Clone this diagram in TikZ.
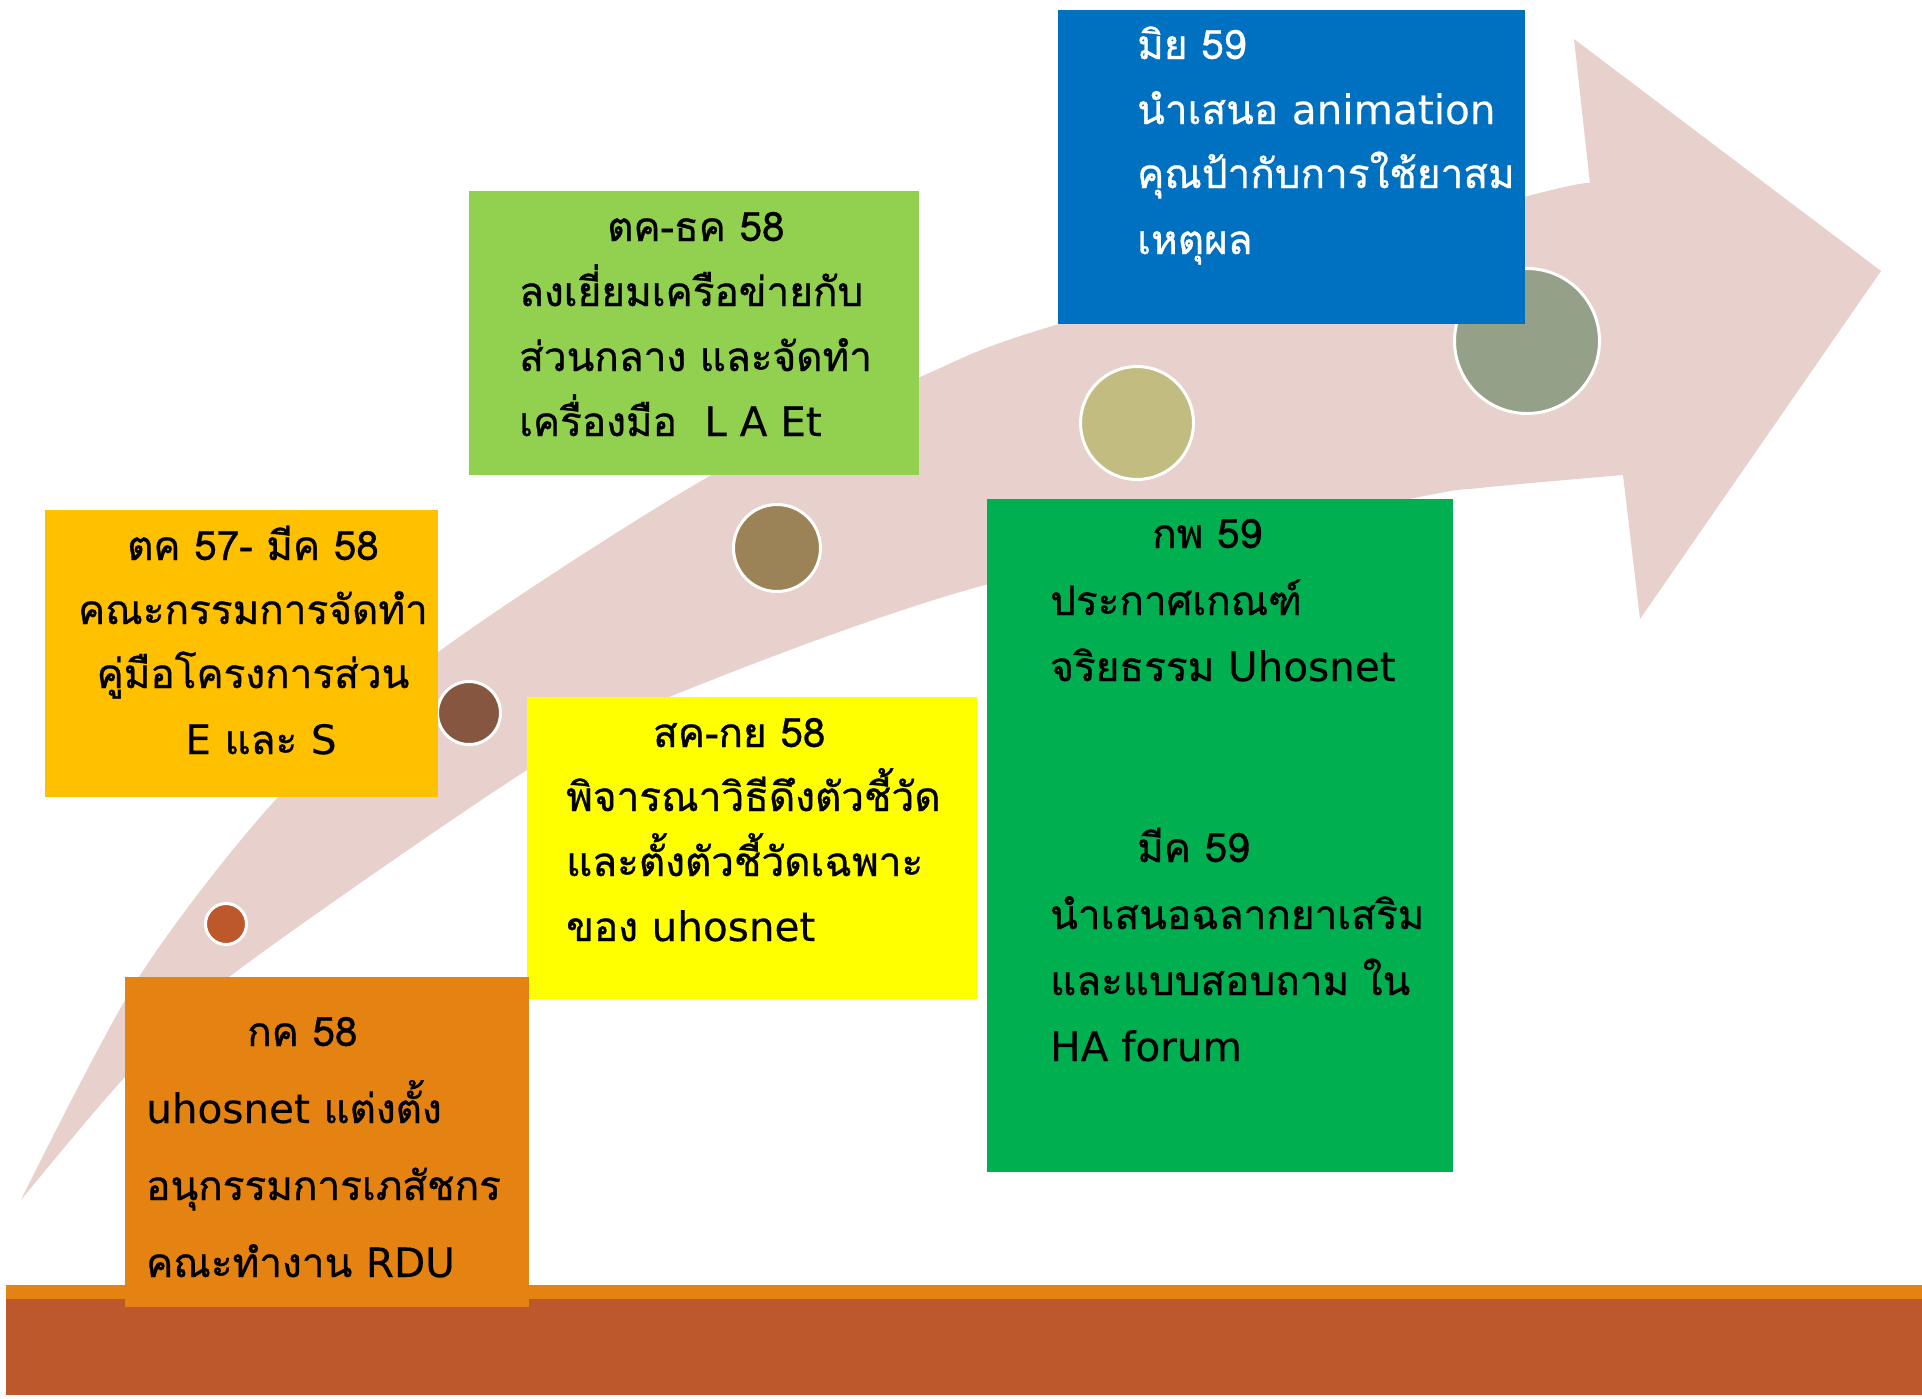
\documentclass[tikz,border=0pt]{standalone}
\usepackage{fontspec}
\newfontfamily\thaifont[Script=Thai,FakeBold=0.8]{Loma}
\newfontfamily\lat[FakeBold=0.3]{DejaVu Sans}
\definecolor{arrowc}{HTML}{E8D1CD}
\definecolor{cblue}{HTML}{0070C0}
\definecolor{clgreen}{HTML}{92D050}
\definecolor{camber}{HTML}{FFC000}
\definecolor{cyellow}{HTML}{FFFF00}
\definecolor{cgreen}{HTML}{00B050}
\definecolor{corange}{HTML}{E48312}
\definecolor{cbrown}{HTML}{BD582C}
\definecolor{dotA}{HTML}{BD582C}
\definecolor{dotB}{HTML}{865640}
\definecolor{dotC}{HTML}{9B8357}
\definecolor{dotD}{HTML}{C2BC80}
\definecolor{dotE}{HTML}{94A088}
\tikzset{
  box/.style={rectangle, draw=none, inner sep=0pt, anchor=north west},
  dot/.style={circle, draw=white, line width=3pt, inner sep=0pt},
  txt/.style={anchor=base west, inner sep=0pt, font=\thaifont\fontsize{40.5}{50}\selectfont},
}
\begin{document}
\begin{tikzpicture}[x=1pt,y=-1pt]
\useasboundingbox (0,0) rectangle (1922,1398);
% arrow
\fill[arrowc] plot[smooth] coordinates {(21,1200) (139,977) (279,796) (437,653) (708,477) (920,377) (1059,324) (1524,197) (1590,184)}
  -- (1574,39) -- (1881,271) -- (1640,619) -- (1623,475)
  -- plot[smooth] coordinates {(1623,475) (1480,488) (1409,499) (985,585) (669,697) (527,770) (229,977) (125,1077) (21,1200)} -- cycle;
% ground bar
\fill[corange] (6,1285) rectangle (1922,1300);
\fill[cbrown] (6,1299) rectangle (1922,1395);
% dots
\node[dot, fill=dotA, minimum size=41pt] (d1) at (226,924) {};
\node[dot, fill=dotB, minimum size=63pt] (d2) at (469,713) {};
\node[dot, fill=dotC, minimum size=87pt] (d3) at (777,548) {};
\node[dot, fill=dotD, minimum size=113pt] (d4) at (1137,423) {};
\node[dot, fill=dotE, minimum size=145pt] (d5) at (1527,341) {};
% boxes
\node[box, fill=cblue, minimum width=467pt, minimum height=314pt] (bblue) at (1058,10) {};
\node[box, fill=clgreen, minimum width=450pt, minimum height=284pt] (blgreen) at (469,191) {};
\node[box, fill=camber, minimum width=393pt, minimum height=287pt] (bamber) at (45,510) {};
\node[box, fill=cyellow, minimum width=450pt, minimum height=302pt] (byellow) at (527,697) {};
\node[box, fill=cgreen, minimum width=466pt, minimum height=673pt] (bgreen) at (987,499) {};
\node[box, fill=corange, minimum width=404pt, minimum height=330pt] (borange) at (125,977) {};
% blue texts
\node[txt, text=white] (ta1) at (1137,59) {มิย 59};
\node[txt, text=white] (ta2) at (1137,124) {นำเสนอ {\lat animation}};
\node[txt, text=white] (ta3) at (1137,188) {คุณป้ากับการใช้ยาสม};
\node[txt, text=white] (ta4) at (1137,254) {เหตุผล};
% light green texts
\node[txt] (tb1) at (607,241) {ตค-ธค 58};
\node[txt] (tb2) at (519,306) {ลงเยี่ยมเครือข่ายกับ};
\node[txt] (tb3) at (519,371) {ส่วนกลาง และจัดทำ};
\node[txt] (tb4) at (519,436) {เครื่องมือ\ \ {\lat L A Et}};
% amber texts (centred)
\node[txt, anchor=base] (tc1) at (253,560) {ตค 57- มีค 58};
\node[txt, anchor=base] (tc2) at (253,624) {คณะกรรมการจัดทำ};
\node[txt, anchor=base] (tc3) at (253,688) {คู่มือโครงการส่วน};
\node[txt, anchor=base] (tc4) at (261,754) {{\lat E} และ {\lat S}};
% yellow texts
\node[txt] (td1) at (653,747) {สค-กย 58};
\node[txt] (td2) at (566,811) {พิจารณาวิธีดึงตัวชี้วัด};
\node[txt] (td3) at (566,876) {และตั้งตัวชี้วัดเฉพาะ};
\node[txt] (td4) at (566,941) {ของ {\lat uhosnet}};
% green texts
\node[txt] (te1) at (1152,548) {กพ 59};
\node[txt] (te2) at (1050,615) {ประกาศเกณฑ์};
\node[txt] (te3) at (1050,681) {จริยธรรม {\lat Uhosnet}};
\node[txt] (te4) at (1137,862) {มีค 59};
\node[txt] (te5) at (1050,929) {นำเสนอฉลากยาเสริม};
\node[txt] (te6) at (1050,995) {และแบบสอบถาม ใน};
\node[txt] (te7) at (1050,1061) {{\lat HA forum}};
% orange texts
\node[txt] (tf1) at (247,1046) {กค 58};
\node[txt] (tf2) at (146,1123) {{\lat uhosnet} แต่งตั้ง};
\node[txt] (tf3) at (146,1200) {อนุกรรมการเภสัชกร};
\node[txt] (tf4) at (146,1277) {คณะทำงาน {\lat RDU}};
\end{tikzpicture}
\end{document}
